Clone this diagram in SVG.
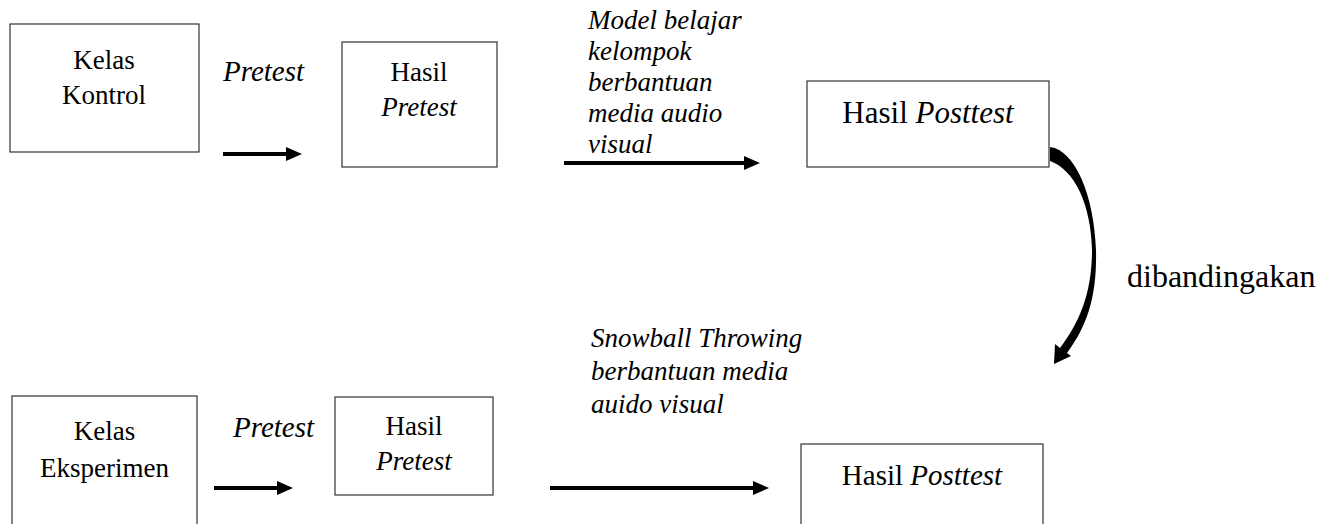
<svg xmlns="http://www.w3.org/2000/svg" width="1323" height="524" viewBox="0 0 1323 524">
<style>
.box{fill:#fff;stroke:#333;stroke-width:1.2}
.t{font-family:"Liberation Serif","Times New Roman",serif;font-size:27px;fill:#000}
.c{text-anchor:middle}
.i{font-style:italic}
.ln{stroke:#000;stroke-width:4;fill:none}
</style>
<defs>
<marker id="ah" markerUnits="userSpaceOnUse" markerWidth="16" markerHeight="14" refX="0" refY="7" orient="auto" viewBox="0 0 16 14">
<path d="M0,0 L16,7 L0,14 Z" fill="#000"/>
</marker>
</defs>
<rect width="1323" height="524" fill="#fff"/>

<g id="kelas-kontrol">
<rect class="box" x="10" y="24" width="189" height="128"/>
<text class="t c" x="104" y="69">Kelas</text>
<text class="t c" x="104" y="104">Kontrol</text>
</g>
<g id="hasil-pretest-1">
<rect class="box" x="342" y="42" width="155" height="125"/>
<text class="t c" x="419" y="81">Hasil</text>
<text class="t c i" x="419" y="116">Pretest</text>
</g>
<g id="hasil-posttest-1">
<rect class="box" x="807" y="81" width="242" height="86"/>
<text class="t c" x="928" y="123" style="font-size:31px">Hasil <tspan class="i">Posttest</tspan></text>
</g>
<g id="kelas-eksperimen">
<rect class="box" x="12" y="396" width="185" height="140"/>
<text class="t c" x="104.5" y="440">Kelas</text>
<text class="t c" x="104.5" y="477">Eksperimen</text>
</g>
<g id="hasil-pretest-2">
<rect class="box" x="335" y="397" width="158" height="98"/>
<text class="t c" x="414" y="435">Hasil</text>
<text class="t c i" x="414" y="470">Pretest</text>
</g>
<g id="hasil-posttest-2">
<rect class="box" x="801" y="444" width="242" height="100"/>
<text class="t c" x="922" y="485" style="font-size:29px">Hasil <tspan class="i">Posttest</tspan></text>
</g>

<g id="connectors">
<line class="ln" x1="223" y1="154" x2="286" y2="154" marker-end="url(#ah)"/>
<line class="ln" x1="564" y1="163" x2="744" y2="163" marker-end="url(#ah)"/>
<line class="ln" x1="214" y1="488" x2="277" y2="488" marker-end="url(#ah)"/>
<line class="ln" x1="550" y1="488" x2="753" y2="488" marker-end="url(#ah)"/>
<path d="M1050,147 C1075,150 1094,195 1096,250 C1097,295 1088,325 1067,353 L1071,356 L1054,364 L1055,344 L1060,348 C1080,322 1092,292 1092,250 C1091,205 1075,170 1050,161 Z" fill="#000"/>
</g>

<g id="labels">
<text class="t i" x="223" y="81" style="font-size:29px">Pretest</text>
<text class="t i" x="233" y="437" style="font-size:29px">Pretest</text>
<text class="t i" x="588" y="29">Model belajar</text>
<text class="t i" x="588" y="60">kelompok</text>
<text class="t i" x="588" y="91">berbantuan</text>
<text class="t i" x="588" y="122">media audio</text>
<text class="t i" x="588" y="153">visual</text>
<text class="t i" x="591" y="347">Snowball Throwing</text>
<text class="t i" x="591" y="380">berbantuan media</text>
<text class="t i" x="591" y="413">auido visual</text>
<text class="t" x="1127" y="287" style="font-size:32px">dibandingakan</text>
</g>
</svg>
